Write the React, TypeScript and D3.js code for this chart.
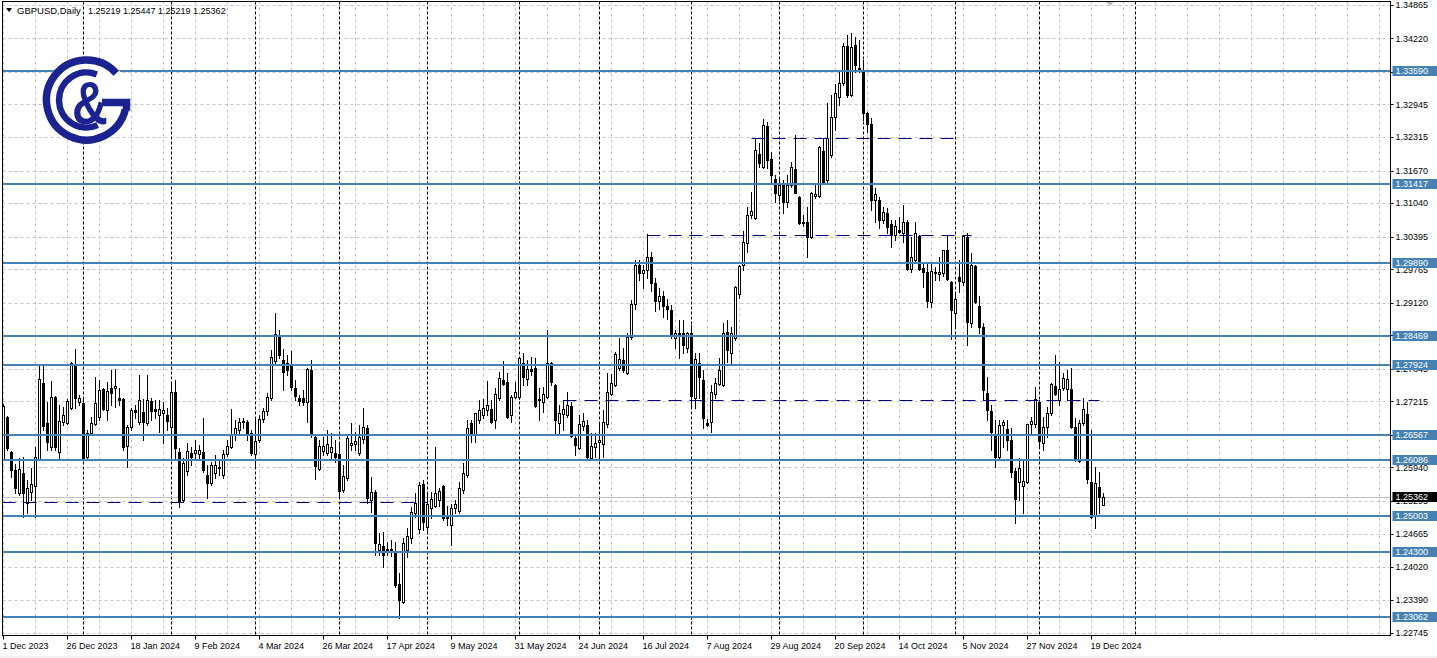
import React from 'react';
import * as d3 from 'd3';

type Bar = [number, number, number, number]; // open, high, low, close

const symbolTitle = 'GBPUSD,Daily';
const lastQuote = [1.25219, 1.25447, 1.25219, 1.25362];

const dec2023: Bar[] = [
  [1.2610,1.2717,1.2608,1.2713],[1.2691,1.2693,1.2628,1.2632],[1.2624,1.2626,1.2576,1.2589],[1.2589,1.2601,1.2545,1.2554],
  [1.2545,1.2612,1.2541,1.2591],[1.2583,1.2614,1.2498,1.2545],[1.2525,1.2570,1.2506,1.2554],[1.2547,1.2593,1.2531,1.2562],
  [1.2558,1.2634,1.2498,1.2615],[1.2610,1.2792,1.2608,1.2765],[1.2757,1.2792,1.2666,1.2674],[1.2680,1.2720,1.2628,1.2643],
  [1.2634,1.2761,1.2628,1.2730],[1.2730,1.2732,1.2628,1.2634],[1.2624,1.2715,1.2608,1.2684],[1.2682,1.2711,1.2676,1.2695],
  [1.2680,1.2726,1.2678,1.2722],[1.2709,1.2798,1.2707,1.2796],[1.2794,1.2823,1.2709,1.2728],[1.2720,1.2734,1.2715,1.2728],
];
const jan2024: Bar[] = [
  [1.2718,1.2726,1.2608,1.2612],[1.2614,1.2666,1.2608,1.2661],[1.2661,1.2691,1.2657,1.2680],[1.2678,1.2769,1.2676,1.2718],
  [1.2691,1.2763,1.2686,1.2744],[1.2745,1.2747,1.2705,1.2707],[1.2705,1.2759,1.2686,1.2742],[1.2747,1.2782,1.2715,1.2738],
  [1.2747,1.2784,1.2711,1.2751],[1.2728,1.2747,1.2715,1.2724],[1.2726,1.2728,1.2628,1.2634],[1.2635,1.2676,1.2595,1.2672],
  [1.2672,1.2709,1.2666,1.2705],[1.2705,1.2715,1.2690,1.2701],[1.2682,1.2773,1.2678,1.2724],[1.2701,1.2726,1.2647,1.2682],
  [1.2680,1.2773,1.2676,1.2724],[1.2722,1.2728,1.2686,1.2703],[1.2707,1.2724,1.2690,1.2703],[1.2695,1.2724,1.2662,1.2707],
  [1.2699,1.2720,1.2641,1.2705],[1.2695,1.2709,1.2666,1.2684],
];
const feb2024: Bar[] = [
  [1.2672,1.2757,1.2612,1.2740],[1.2740,1.2763,1.2612,1.2632],[1.2624,1.2632,1.2518,1.2527],[1.2531,1.2612,1.2527,1.2603],
  [1.2587,1.2641,1.2580,1.2626],[1.2622,1.2634,1.2599,1.2614],[1.2622,1.2647,1.2608,1.2628],[1.2620,1.2637,1.2608,1.2628],
  [1.2624,1.2690,1.2585,1.2589],[1.2580,1.2599,1.2535,1.2564],[1.2564,1.2605,1.2560,1.2599],[1.2583,1.2618,1.2574,1.2599],
  [1.2595,1.2608,1.2580,1.2593],[1.2580,1.2628,1.2574,1.2620],[1.2620,1.2647,1.2616,1.2635],[1.2634,1.2707,1.2632,1.2657],
  [1.2657,1.2686,1.2647,1.2670],[1.2666,1.2690,1.2657,1.2682],[1.2684,1.2690,1.2670,1.2682],[1.2682,1.2686,1.2647,1.2657],
  [1.2661,1.2666,1.2618,1.2622],
];
const mar2024: Bar[] = [
  [1.2620,1.2691,1.2595,1.2645],[1.2647,1.2695,1.2643,1.2688],[1.2688,1.2709,1.2682,1.2703],[1.2703,1.2738,1.2695,1.2730],
  [1.2728,1.2821,1.2724,1.2807],[1.2800,1.2892,1.2796,1.2852],[1.2850,1.2859,1.2805,1.2811],[1.2801,1.2823,1.2744,1.2779],
  [1.2796,1.2811,1.2773,1.2782],[1.2792,1.2819,1.2744,1.2749],[1.2747,1.2763,1.2724,1.2732],[1.2728,1.2734,1.2715,1.2722],
  [1.2728,1.2744,1.2715,1.2720],[1.2720,1.2786,1.2682,1.2784],[1.2782,1.2801,1.2653,1.2657],[1.2653,1.2657,1.2572,1.2597],
  [1.2591,1.2647,1.2589,1.2635],[1.2626,1.2653,1.2618,1.2635],[1.2622,1.2666,1.2618,1.2639],[1.2624,1.2661,1.2608,1.2634],
  [1.2622,1.2647,1.2605,1.2614],
];
const apr2024: Bar[] = [
  [1.2620,1.2641,1.2537,1.2549],[1.2551,1.2599,1.2547,1.2578],[1.2574,1.2657,1.2570,1.2651],[1.2637,1.2680,1.2628,1.2641],
  [1.2639,1.2662,1.2628,1.2645],[1.2622,1.2676,1.2618,1.2653],[1.2649,1.2709,1.2641,1.2672],[1.2670,1.2676,1.2525,1.2535],
  [1.2531,1.2576,1.2508,1.2547],[1.2547,1.2551,1.2425,1.2448],[1.2435,1.2468,1.2425,1.2446],[1.2442,1.2469,1.2402,1.2425],
  [1.2435,1.2450,1.2425,1.2437],[1.2437,1.2454,1.2423,1.2435],[1.2433,1.2450,1.2363,1.2367],[1.2369,1.2390,1.2304,1.2338],
  [1.2334,1.2458,1.2332,1.2448],[1.2435,1.2477,1.2421,1.2462],[1.2458,1.2518,1.2448,1.2508],[1.2506,1.2545,1.2498,1.2525],
  [1.2475,1.2566,1.2468,1.2560],[1.2562,1.2570,1.2473,1.2489],
];
const may2024: Bar[] = [
  [1.2479,1.2545,1.2468,1.2523],[1.2516,1.2547,1.2496,1.2533],[1.2520,1.2634,1.2518,1.2545],[1.2531,1.2554,1.2520,1.2549],
  [1.2558,1.2560,1.2493,1.2497],[1.2500,1.2520,1.2483,1.2497],[1.2483,1.2524,1.2444,1.2516],[1.2516,1.2531,1.2506,1.2524],
  [1.2510,1.2566,1.2506,1.2554],[1.2551,1.2603,1.2545,1.2583],[1.2580,1.2686,1.2576,1.2670],[1.2680,1.2686,1.2643,1.2657],
  [1.2657,1.2699,1.2643,1.2699],[1.2686,1.2724,1.2680,1.2705],[1.2695,1.2726,1.2690,1.2709],[1.2705,1.2761,1.2695,1.2715],
  [1.2707,1.2724,1.2680,1.2682],[1.2686,1.2747,1.2670,1.2736],[1.2728,1.2779,1.2724,1.2767],[1.2763,1.2800,1.2753,1.2755],
  [1.2759,1.2776,1.2690,1.2692],[1.2695,1.2734,1.2682,1.2730],[1.2730,1.2759,1.2728,1.2740],
];
const jun2024: Bar[] = [
  [1.2730,1.2807,1.2726,1.2805],[1.2796,1.2815,1.2753,1.2769],[1.2765,1.2801,1.2753,1.2784],[1.2784,1.2807,1.2773,1.2780],
  [1.2786,1.2805,1.2711,1.2713],[1.2726,1.2747,1.2686,1.2724],[1.2720,1.2749,1.2701,1.2736],[1.2730,1.2859,1.2728,1.2796],
  [1.2796,1.2798,1.2753,1.2759],[1.2753,1.2755,1.2657,1.2686],[1.2680,1.2715,1.2657,1.2699],[1.2697,1.2724,1.2666,1.2707],
  [1.2695,1.2740,1.2691,1.2715],[1.2713,1.2720,1.2653,1.2655],[1.2651,1.2657,1.2618,1.2637],[1.2632,1.2695,1.2630,1.2678],
  [1.2674,1.2699,1.2666,1.2684],[1.2676,1.2686,1.2612,1.2614],[1.2612,1.2661,1.2608,1.2635],[1.2634,1.2661,1.2614,1.2641],
];
const jul2024: Bar[] = [
  [1.2643,1.2680,1.2614,1.2647],[1.2639,1.2705,1.2614,1.2682],[1.2678,1.2776,1.2672,1.2740],[1.2736,1.2774,1.2734,1.2757],
  [1.2753,1.2817,1.2751,1.2813],[1.2786,1.2844,1.2782,1.2803],[1.2801,1.2825,1.2779,1.2782],[1.2776,1.2854,1.2774,1.2846],
  [1.2846,1.2918,1.2842,1.2910],[1.2910,1.2995,1.2900,1.2985],[1.2985,1.2995,1.2955,1.2970],[1.2970,1.2985,1.2940,1.2975],
  [1.2975,1.3044,1.2960,1.3000],[1.3000,1.3010,1.2935,1.2950],[1.2950,1.2960,1.2895,1.2915],[1.2915,1.2940,1.2900,1.2925],
  [1.2925,1.2935,1.2885,1.2905],[1.2905,1.2920,1.2880,1.2900],[1.2898,1.2908,1.2843,1.2848],[1.2844,1.2859,1.2825,1.2854],
  [1.2854,1.2879,1.2805,1.2850],[1.2854,1.2879,1.2815,1.2830],[1.2825,1.2855,1.2817,1.2854],
];
const aug2024: Bar[] = [
  [1.2854,1.2869,1.2709,1.2732],[1.2728,1.2815,1.2709,1.2803],[1.2796,1.2815,1.2728,1.2769],[1.2763,1.2782,1.2670,1.2690],
  [1.2680,1.2688,1.2674,1.2676],[1.2682,1.2753,1.2662,1.2740],[1.2736,1.2767,1.2728,1.2757],[1.2755,1.2805,1.2753,1.2782],
  [1.2753,1.2873,1.2751,1.2854],[1.2855,1.2879,1.2798,1.2821],[1.2815,1.2865,1.2796,1.2854],[1.2844,1.2945,1.2840,1.2942],
  [1.2929,1.2985,1.2921,1.2983],[1.2985,1.3050,1.2975,1.3029],[1.3027,1.3097,1.3010,1.3081],[1.3081,1.3126,1.3075,1.3089],
  [1.3076,1.3230,1.3074,1.3207],[1.3199,1.3220,1.3174,1.3182],[1.3174,1.3267,1.3172,1.3255],[1.3253,1.3261,1.3172,1.3187],
  [1.3189,1.3203,1.3143,1.3159],[1.3151,1.3159,1.3106,1.3124],
];
const sep2024: Bar[] = [
  [1.3120,1.3155,1.3110,1.3139],[1.3139,1.3149,1.3085,1.3106],[1.3106,1.3159,1.3097,1.3139],[1.3139,1.3184,1.3135,1.3174],
  [1.3170,1.3236,1.3124,1.3124],[1.3116,1.3118,1.3064,1.3066],[1.3068,1.3081,1.3060,1.3066],[1.3068,1.3097,1.3000,1.3039],
  [1.3039,1.3126,1.3037,1.3124],[1.3118,1.3143,1.3114,1.3122],[1.3118,1.3215,1.3116,1.3213],[1.3205,1.3230,1.3143,1.3145],
  [1.3149,1.3297,1.3143,1.3230],[1.3197,1.3313,1.3193,1.3270],[1.3270,1.3334,1.3245,1.3317],[1.3309,1.3361,1.3294,1.3336],
  [1.3336,1.3413,1.3332,1.3407],[1.3407,1.3429,1.3309,1.3313],[1.3313,1.3433,1.3311,1.3405],[1.3409,1.3425,1.3357,1.3371],
  [1.3365,1.3419,1.3357,1.3363],
];
const oct2024: Bar[] = [
  [1.3357,1.3380,1.3265,1.3278],[1.3278,1.3280,1.3241,1.3257],[1.3257,1.3269,1.3091,1.3110],[1.3110,1.3133,1.3068,1.3122],
  [1.3110,1.3116,1.3056,1.3072],[1.3072,1.3097,1.3066,1.3087],[1.3085,1.3095,1.3047,1.3058],[1.3064,1.3072,1.3019,1.3043],
  [1.3043,1.3072,1.3033,1.3060],[1.3052,1.3077,1.3047,1.3048],[1.3047,1.3101,1.3029,1.3068],[1.3068,1.3072,1.2975,1.2977],
  [1.2977,1.3039,1.2971,1.3000],[1.2994,1.3068,1.2992,1.3047],[1.3041,1.3043,1.2975,1.2977],[1.2979,1.2991,1.2942,1.2971],
  [1.2971,1.2991,1.2904,1.2915],[1.2913,1.2989,1.2904,1.2973],[1.2971,1.2981,1.2956,1.2969],[1.2967,1.3000,1.2956,1.2971],
  [1.2969,1.3014,1.2964,1.3013],[1.3013,1.3043,1.2956,1.2958],[1.2952,1.2953,1.2842,1.2898],
];
const nov2024: Bar[] = [
  [1.2892,1.2931,1.2863,1.2919],[1.2962,1.2994,1.2933,1.2954],[1.2952,1.3043,1.2946,1.3041],[1.3039,1.3047,1.2830,1.2875],
  [1.2873,1.3008,1.2865,1.2985],[1.2983,1.2985,1.2911,1.2913],[1.2906,1.2925,1.2854,1.2865],[1.2865,1.2873,1.2724,1.2744],
  [1.2738,1.2769,1.2686,1.2705],[1.2703,1.2715,1.2628,1.2662],[1.2657,1.2686,1.2595,1.2614],[1.2614,1.2686,1.2612,1.2676],
  [1.2676,1.2686,1.2634,1.2682],[1.2668,1.2686,1.2628,1.2647],[1.2647,1.2670,1.2576,1.2585],[1.2587,1.2593,1.2487,1.2533],
  [1.2566,1.2612,1.2531,1.2593],[1.2558,1.2608,1.2506,1.2568],[1.2566,1.2678,1.2564,1.2678],[1.2678,1.2691,1.2661,1.2684],
  [1.2678,1.2749,1.2672,1.2726],
];
const dec2024: Bar[] = [
  [1.2720,1.2724,1.2634,1.2645],[1.2641,1.2691,1.2628,1.2672],[1.2672,1.2711,1.2653,1.2699],[1.2699,1.2757,1.2695,1.2755],
  [1.2751,1.2811,1.2734,1.2736],[1.2724,1.2798,1.2715,1.2745],[1.2747,1.2776,1.2743,1.2767],[1.2745,1.2782,1.2724,1.2765],
  [1.2745,1.2786,1.2670,1.2672],[1.2672,1.2690,1.2606,1.2610],[1.2606,1.2686,1.2605,1.2680],[1.2680,1.2728,1.2676,1.2707],
  [1.2697,1.2720,1.2564,1.2572],[1.2566,1.2666,1.2497,1.2498],[1.2500,1.2595,1.2477,1.2564],[1.2556,1.2585,1.2506,1.2537],
  [1.25219,1.25447,1.25219,1.25362],
];

const candles: Bar[] = [
  ...dec2023, ...jan2024, ...feb2024, ...mar2024, ...apr2024, ...may2024, ...jun2024,
  ...jul2024, ...aug2024, ...sep2024, ...oct2024, ...nov2024, ...dec2024,
];

const priceTicks = [1.34865,1.34220,1.33575,1.32945,1.32315,1.31670,1.31040,1.30395,1.29765,1.29120,
  1.28490,1.27845,1.27215,1.26570,1.25940,1.25295,1.24665,1.24020,1.23390,1.22745];
const levelLines = [1.33590,1.31417,1.29890,1.28469,1.27924,1.26567,1.26086,1.25003,1.24300,1.23062];
const currentPrice = 1.25362;

const dashedPrices = [1.2527, 1.2724, 1.3042, 1.3230];
const dashedFrom = [0, 140, 161, 187];
const dashedTo = [106, 274, 242, 239];

const timeLabels = ['1 Dec 2023','26 Dec 2023','18 Jan 2024','9 Feb 2024','4 Mar 2024','26 Mar 2024',
  '17 Apr 2024','9 May 2024','31 May 2024','24 Jun 2024','16 Jul 2024','7 Aug 2024','29 Aug 2024',
  '20 Sep 2024','14 Oct 2024','5 Nov 2024','27 Nov 2024','19 Dec 2024'];
const timeLabelBars = [0,16,32,48,64,80,96,112,128,144,160,176,192,208,224,240,256,272];
const monthStartBars = [20,42,63,84,106,129,149,172,194,215,238,259,283];

const FONT = "'Liberation Sans', Arial, sans-serif";

export default function App() {
  const W = 1437, H = 658;
  const left = 2.5, right = 1390.5, top = 1.5, bottom = 635.5;
  const x = d3.scaleLinear().domain([0, 1]).range([3.5, 7.5]);
  const y = d3.scaleLinear().domain([1.22745, 1.34865]).range([633, 5]);
  const gridBars = d3.range(0, 347, 8);
  const crisp = (v: number) => Math.round(v) + 0.5;
  const navy = '#1b2390';
  const steel = '#4682B4';

  const lc = [86.5, 100];
  const arcPt = (r: number, deg: number) => [lc[0] + r * Math.cos(deg * Math.PI / 180), lc[1] + r * Math.sin(deg * Math.PI / 180)];
  const o1 = arcPt(40, 318), o2 = arcPt(40, 14);
  const i1 = arcPt(27.5, 292), i2 = arcPt(27.5, 66);

  return (
    <svg width={W} height={H} style={{ position: 'absolute', left: 0, top: 0, background: '#fff' }} fontFamily={FONT}>
      <rect x={0} y={0} width={W} height={H} fill="#fff" />
      <rect x={0} y={656} width={W} height={2} fill="#f0f0f0" />
      <defs>
        <clipPath id="plot"><rect x={left} y={top} width={right - left} height={bottom - top} /></clipPath>
      </defs>
      <g clipPath="url(#plot)">
        {priceTicks.map((p, i) => (
          <line key={'hg' + i} x1={left} x2={right} y1={crisp(y(p))} y2={crisp(y(p))} stroke="#c4c4c4" strokeDasharray="3,3" />
        ))}
        {gridBars.map((b) => (
          <line key={'vg' + b} x1={x(b)} x2={x(b)} y1={top} y2={bottom} stroke="#c4c4c4" strokeDasharray="3,3" />
        ))}
        {monthStartBars.map((b) => (
          <line key={'ms' + b} x1={x(b)} x2={x(b)} y1={top} y2={bottom} stroke="#000" strokeDasharray="3,2" />
        ))}
        <line x1={left} x2={right} y1={crisp(y(currentPrice))} y2={crisp(y(currentPrice))} stroke="#c0c0c0" />
        {candles.map((c, i) => {
          const [o, h, l, cl] = c;
          const cx = x(i);
          const yo = Math.round(y(o)), yc = Math.round(y(cl));
          const yh = Math.round(y(h)), yl = Math.round(y(l));
          const bull = cl >= o;
          const t = Math.min(yo, yc), bt = Math.max(yo, yc);
          return (
            <g key={'c' + i}>
              <line x1={cx} x2={cx} y1={yh} y2={yl + 1} stroke="#000" />
              <rect x={cx - 1} y={t + 0.5} width={2} height={Math.max(bt - t, 0)} fill={bull ? '#fff' : '#000'} stroke="#000" />
            </g>
          );
        })}
        {levelLines.map((p, i) => (
          <line key={'lv' + i} x1={left} x2={right} y1={Math.round(y(p))} y2={Math.round(y(p))} stroke={steel} strokeWidth={2} />
        ))}
        {dashedPrices.map((p, i) => (
          <line key={'dl' + i} x1={i === 0 ? left : x(dashedFrom[i])} x2={x(dashedTo[i])} y1={crisp(y(p))} y2={crisp(y(p))}
            stroke="#000080" strokeDasharray="13,8" />
        ))}
        <g>
          <circle cx={lc[0]} cy={lc[1]} r={44} fill="#fff" />
          <path d={`M${o1[0]},${o1[1]} A40,40 0 1 0 ${o2[0]},${o2[1]}`} fill="none" stroke={navy} strokeWidth={7.5} />
          <path d={`M102,102.5 H126.5 V${o2[1] + 1}`} fill="none" stroke={navy} strokeWidth={7.5} />
          <path d={`M${i1[0]},${i1[1]} A27.5,27.5 0 1 0 ${i2[0]},${i2[1]}`} fill="none" stroke={navy} strokeWidth={6.5} />
          <text transform="translate(90,124) scale(0.8,1)" textAnchor="middle" fontSize={62} fontWeight="bold" fill={navy}>&amp;</text>
        </g>
        <polygon points="1105,1 1115,1 1110,6" fill="#bdbdbd" />
      </g>
      <rect x={left} y={top} width={right - left} height={bottom - top} fill="none" stroke="#000" />
      <polygon points="6,8 12,8 9,12" fill="#000" />
      <text x={17} y={14} fontSize={9.5} fill="#000">{symbolTitle}</text>
      <text x={88} y={14} fontSize={9} fill="#000">{lastQuote.map((v) => v.toFixed(5)).join(' ')}</text>
      {priceTicks.map((p, i) => (
        <g key={'pt' + i}>
          <line x1={right} x2={right + 3} y1={crisp(y(p))} y2={crisp(y(p))} stroke="#000" />
          <text x={1395.5} y={y(p) + 3.3} fontSize={9} fill="#000">{p.toFixed(5)}</text>
        </g>
      ))}
      {levelLines.map((p, i) => (
        <g key={'lb' + i}>
          <rect x={1392.5} y={Math.round(y(p)) - 5} width={45} height={10} fill={steel} />
          <text x={1395.5} y={Math.round(y(p)) + 3.3} fontSize={9} fill="#fff">{p.toFixed(5)}</text>
        </g>
      ))}
      <rect x={1392.5} y={Math.round(y(currentPrice)) - 5} width={45} height={10} fill="#000" />
      <text x={1395.5} y={Math.round(y(currentPrice)) + 3.3} fontSize={9} fill="#fff">{currentPrice.toFixed(5)}</text>
      {timeLabels.map((t, i) => (
        <g key={'tl' + i}>
          <line x1={x(timeLabelBars[i])} x2={x(timeLabelBars[i])} y1={bottom} y2={bottom + 4} stroke="#000" />
          <text x={x(timeLabelBars[i]) - 1} y={649} fontSize={9} fill="#000">{t}</text>
        </g>
      ))}
    </svg>
  );
}
